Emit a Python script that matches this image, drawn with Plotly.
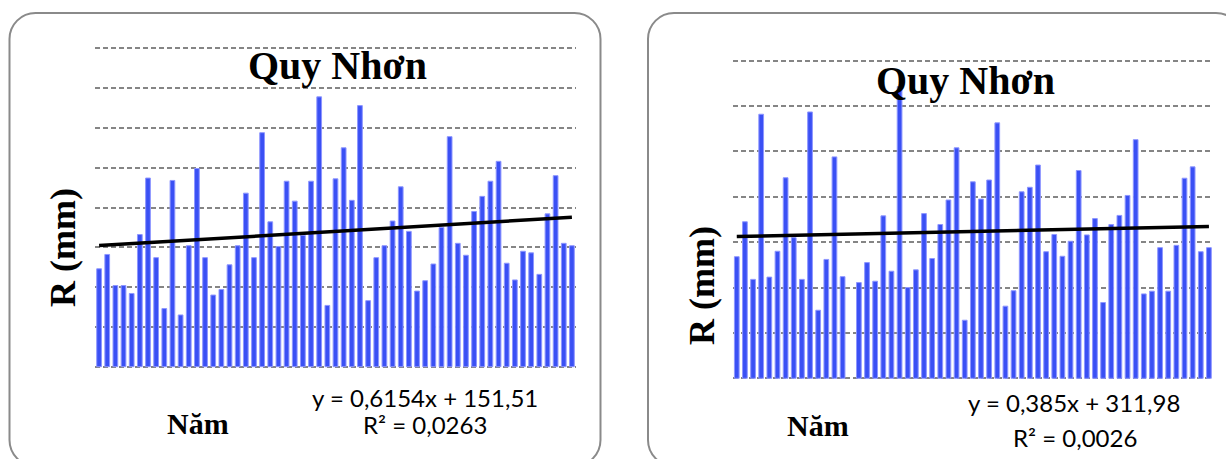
import plotly.graph_objects as go

W, H = 1226, 459

# Annual rainfall R (mm), two series for Quy Nhơn, 59 years each
years = list(range(1, 60))
rain_a = [123, 141, 102, 102, 92, 166, 237, 137, 73, 234,
          65, 152, 249, 137, 90, 97, 128, 152, 218, 137,
          294, 182, 151, 233, 208, 165, 233, 339, 77, 236,
          275, 209, 328, 83, 137, 152, 183, 226, 170, 95,
          108, 129, 175, 289, 155, 140, 195, 214, 233, 258,
          130, 109, 145, 143, 116, 192, 240, 155, 152]
rain_b = [268, 345, 218, 582, 223, 280, 442, 310, 218, 587,
          150, 262, 488, 224, None, 211, 255, 214, 358, 236,
          643, 200, 239, 363, 264, 339, 393, 508, 128, 433,
          395, 437, 563, 159, 193, 411, 421, 470, 279, 317,
          269, 302, 458, 316, 352, 167, 339, 359, 403, 526,
          186, 192, 288, 192, 293, 441, 466, 279, 288]

# Linear trend coefficients (slope, intercept) and R²
trend_a = (0.6154, 151.51, "0,0263")
trend_b = (0.385, 311.98, "0,0026")

title_text = "Quy Nhơn"
ylabel_text = "R (mm)"
xlabel_text = "Năm"

BAR_COLOR = "#3a50f4"
BAR_EDGE = "#8e96ff"
GRID = "#858585"


def px_x(x):
    return x / W


def px_y(y):
    return 1 - y / H


fig = go.Figure()

# each panel: pixel position of value 0 and of the top gridline, plus axis scale
panels = [
    dict(vals=rain_a, trend=trend_a, xa="x", ya="y", ymax=400, dtick=50,
         x0=95, x1=576, ybot=366.7, ytop=48.3),
    dict(vals=rain_b, trend=trend_b, xa="x2", ya="y2", ymax=700, dtick=100,
         x0=732.7, x1=1213, ybot=378.3, ytop=60.7),
]

for p in panels:
    fig.add_trace(go.Bar(
        x=years, y=p["vals"], xaxis=p["xa"], yaxis=p["ya"],
        marker=dict(color=BAR_COLOR, line=dict(color=BAR_EDGE, width=1)),
        showlegend=False, hoverinfo="skip",
    ))
    slope, icpt, _ = p["trend"]
    xs = [years[0], years[-1]]
    fig.add_trace(go.Scatter(
        x=xs, y=[slope * v + icpt for v in xs], xaxis=p["xa"], yaxis=p["ya"],
        mode="lines", line=dict(color="black", width=3.5),
        showlegend=False, hoverinfo="skip",
    ))

common_x = dict(range=[0.5, 59.5], showgrid=False, showticklabels=False,
                ticks="", zeroline=False, showline=False, fixedrange=True)
common_y = dict(showgrid=True, gridcolor=GRID, gridwidth=2, griddash="5px,3px",
                showticklabels=False, ticks="", zeroline=False, showline=False,
                fixedrange=True)

axes = {}
for i, p in enumerate(panels):
    sfx = "" if i == 0 else str(i + 1)
    # pad the value range a little so the 0 and top gridlines are drawn
    pad_px = 2.0
    upp = p["ymax"] / (p["ybot"] - p["ytop"])
    pad = pad_px * upp
    axes[f"xaxis{sfx}"] = dict(domain=[px_x(p["x0"]), px_x(p["x1"])],
                               anchor=f"y{sfx}", **common_x)
    axes[f"yaxis{sfx}"] = dict(domain=[px_y(p["ybot"] + pad_px), px_y(p["ytop"] - pad_px)],
                               anchor=f"x{sfx}", range=[-pad, p["ymax"] + pad],
                               tick0=0, dtick=p["dtick"], **common_y)

fig.update_layout(
    width=W, height=H,
    margin=dict(l=0, r=0, t=0, b=0),
    paper_bgcolor="white", plot_bgcolor="white",
    bargap=0.42,
    **axes,
)


def rounded_rect(x0, y0, x1, y1, r):
    k = 0.5523 * r

    def P(x, y):
        return f"{px_x(x):.5f},{px_y(y):.5f}"

    return (f"M {P(x0 + r, y0)} L {P(x1 - r, y0)} "
            f"C {P(x1 - r + k, y0)} {P(x1, y0 + r - k)} {P(x1, y0 + r)} "
            f"L {P(x1, y1 - r)} "
            f"C {P(x1, y1 - r + k)} {P(x1 - r + k, y1)} {P(x1 - r, y1)} "
            f"L {P(x0 + r, y1)} "
            f"C {P(x0 + r - k, y1)} {P(x0, y1 - r + k)} {P(x0, y1 - r)} "
            f"L {P(x0, y0 + r)} "
            f"C {P(x0, y0 + r - k)} {P(x0 + r - k, y0)} {P(x0 + r, y0)} Z")


for (x0, y0, x1, y1) in [(9.5, 13, 600.5, 466), (648, 13, 1242, 466)]:
    fig.add_shape(type="path", xref="paper", yref="paper",
                  path=rounded_rect(x0, y0, x1, y1, 26),
                  line=dict(color="#8a8a8a", width=2), layer="below")

serif = "Liberation Serif, Times New Roman, serif"
sans = "Lato, Carlito, Calibri, sans-serif"


def label(text, x, y, size, family, bold=False, angle=0):
    fig.add_annotation(
        text=f"<b>{text}</b>" if bold else text,
        x=px_x(x), y=px_y(y), xref="paper", yref="paper",
        xanchor="center", yanchor="middle", showarrow=False,
        textangle=angle, font=dict(family=family, size=size, color="black"),
    )


# titles
label(title_text, 337, 66, 40, serif, bold=True)
label(title_text, 965, 80, 40, serif, bold=True)
# y-axis labels
label(ylabel_text, 63, 248, 36, serif, bold=True, angle=-90)
label(ylabel_text, 702, 286, 36, serif, bold=True, angle=-90)
# x-axis labels
label(xlabel_text, 198, 423, 30, serif, bold=True)
label(xlabel_text, 818, 425, 30, serif, bold=True)


def eq_text(tr):
    slope, icpt, _ = tr
    s = f"{slope:g}".replace(".", ",")
    b = f"{icpt:.2f}".replace(".", ",")
    return f"y = {s}x + {b}"


label(eq_text(trend_a), 425, 397, 24, sans)
label(f"R² = {trend_a[2]}", 425, 424, 24, sans)
label(eq_text(trend_b), 1074, 402, 24, sans)
label(f"R² = {trend_b[2]}", 1075, 437, 24, sans)

fig.write_html("out.html")
